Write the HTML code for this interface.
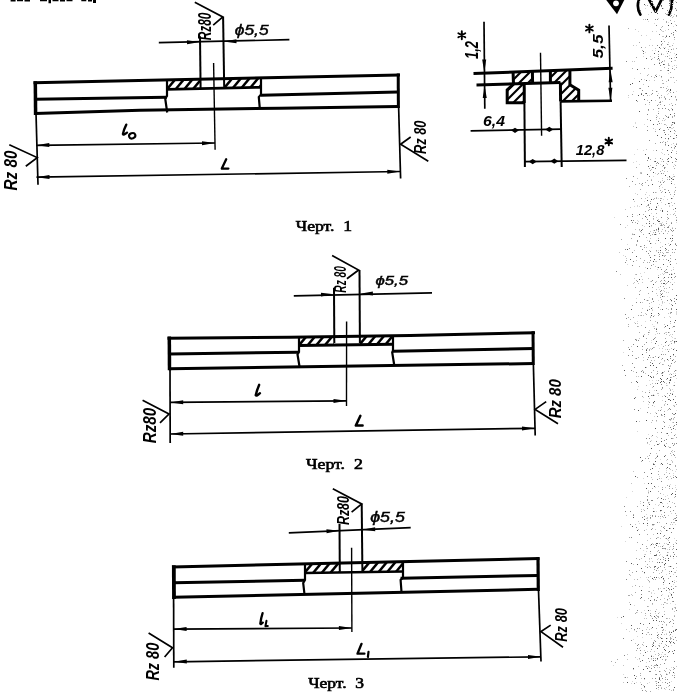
<!DOCTYPE html>
<html><head><meta charset="utf-8"><style>
html,body{margin:0;padding:0;background:#fff;}
body{width:677px;height:692px;overflow:hidden;font-family:"Liberation Sans",sans-serif;}
svg{display:block;will-change:transform;}
</style></head><body>
<svg width="677" height="692" viewBox="0 0 677 692" stroke-linecap="butt">
<line x1="33.5" y1="82.7" x2="400" y2="75" stroke="#000" stroke-width="3"/>
<line x1="35" y1="99.3" x2="167" y2="97.2" stroke="#000" stroke-width="3"/>
<line x1="261" y1="95.3" x2="398" y2="91.9" stroke="#000" stroke-width="3"/>
<polyline points="35,113.5 140,110.3 280,108.2 398,106.5" fill="none" stroke="#000" stroke-width="3" stroke-linejoin="miter"/>
<line x1="35.3" y1="81.2" x2="35.6" y2="115" stroke="#000" stroke-width="3.5"/>
<line x1="398.2" y1="73.5" x2="398.4" y2="108" stroke="#000" stroke-width="3"/>
<line x1="167" y1="89.3" x2="261" y2="87.3" stroke="#000" stroke-width="2.8"/>
<polyline points="167,80.5 167,96 165.2,98.5 167.2,112.5" fill="none" stroke="#000" stroke-width="2.2" stroke-linejoin="miter"/>
<polyline points="261,78.5 261,94.5 258.8,97 259.8,108.5" fill="none" stroke="#000" stroke-width="2.2" stroke-linejoin="miter"/>
<clipPath id="h1a"><polygon points="167,80 200.3,79.3 200.3,88.6 167,89.3"/></clipPath>
<g clip-path="url(#h1a)">
<line x1="158.67" y1="89" x2="167" y2="79" stroke="#000" stroke-width="2.5"/>
<line x1="167.27" y1="89" x2="175.6" y2="79" stroke="#000" stroke-width="2.5"/>
<line x1="175.87" y1="89" x2="184.2" y2="79" stroke="#000" stroke-width="2.5"/>
<line x1="184.47" y1="89" x2="192.8" y2="79" stroke="#000" stroke-width="2.5"/>
<line x1="193.07" y1="89" x2="201.4" y2="79" stroke="#000" stroke-width="2.5"/>
<line x1="201.67" y1="89" x2="210" y2="79" stroke="#000" stroke-width="2.5"/>
</g>
<clipPath id="h1b"><polygon points="224.5,79 261,78.3 261,87.3 224.5,88"/></clipPath>
<g clip-path="url(#h1b)">
<line x1="215.67" y1="88" x2="224" y2="78" stroke="#000" stroke-width="2.5"/>
<line x1="224.27" y1="88" x2="232.6" y2="78" stroke="#000" stroke-width="2.5"/>
<line x1="232.87" y1="88" x2="241.2" y2="78" stroke="#000" stroke-width="2.5"/>
<line x1="241.47" y1="88" x2="249.8" y2="78" stroke="#000" stroke-width="2.5"/>
<line x1="250.07" y1="88" x2="258.4" y2="78" stroke="#000" stroke-width="2.5"/>
<line x1="258.67" y1="88" x2="267" y2="78" stroke="#000" stroke-width="2.5"/>
<line x1="267.27" y1="88" x2="275.6" y2="78" stroke="#000" stroke-width="2.5"/>
</g>
<line x1="36" y1="113" x2="38" y2="184.7" stroke="#000" stroke-width="1.7"/>
<line x1="398.6" y1="106" x2="400.6" y2="178.5" stroke="#000" stroke-width="1.7"/>
<line x1="200" y1="36.2" x2="200.6" y2="88" stroke="#000" stroke-width="2"/>
<line x1="223.1" y1="17" x2="224.2" y2="88" stroke="#000" stroke-width="2"/>
<line x1="158.8" y1="42.7" x2="289.4" y2="39.7" stroke="#000" stroke-width="1.7"/>
<polygon points="200,42 186.95,40.33 187.05,44.32" fill="#000"/>
<polygon points="223.5,41.5 236.54,43.19 236.45,39.19" fill="#000"/>
<polyline points="194.8,2.2 222.8,17 213.2,25.1" fill="none" stroke="#000" stroke-width="1.7" stroke-linejoin="miter"/>
<line x1="213.6" y1="63" x2="215.1" y2="149.7" stroke="#000" stroke-width="1.4"/>
<line x1="36.3" y1="145.3" x2="215" y2="143" stroke="#000" stroke-width="1.7"/>
<polygon points="36.3,145.3 49.33,147.11 49.27,143.11" fill="#000"/>
<polygon points="215,143 201.97,141.22 202.04,145.22" fill="#000"/>
<line x1="36.5" y1="177.2" x2="400.3" y2="171.5" stroke="#000" stroke-width="1.7"/>
<polygon points="36.5,177.2 49.54,178.91 49.45,174.91" fill="#000"/>
<polygon points="400.3,171.5 387.27,169.7 387.33,173.7" fill="#000"/>
<polyline points="9.3,144.7 37.2,157.6 25.8,166.2" fill="none" stroke="#000" stroke-width="1.7" stroke-linejoin="miter"/>
<polyline points="428.3,161.2 400.6,144.2 410.7,137" fill="none" stroke="#000" stroke-width="1.7" stroke-linejoin="miter"/>
<line x1="473.5" y1="73.5" x2="612.6" y2="68.3" stroke="#000" stroke-width="3"/>
<line x1="476.5" y1="84.9" x2="560.4" y2="82.5" stroke="#000" stroke-width="3"/>
<line x1="560.4" y1="101.4" x2="612" y2="100.8" stroke="#000" stroke-width="2.6"/>
<line x1="513.1" y1="72.5" x2="513.5" y2="84.5" stroke="#000" stroke-width="3"/>
<line x1="532.4" y1="72" x2="532.6" y2="83.5" stroke="#000" stroke-width="3"/>
<line x1="550.4" y1="71.5" x2="550.4" y2="83" stroke="#000" stroke-width="3"/>
<line x1="569.9" y1="70.5" x2="569.9" y2="85" stroke="#000" stroke-width="3"/>
<polyline points="513.7,84 507.2,89.8 507.2,102.8 525,102.8" fill="none" stroke="#000" stroke-width="3" stroke-linejoin="miter"/>
<line x1="524.2" y1="84" x2="524.3" y2="103" stroke="#000" stroke-width="3"/>
<line x1="524.4" y1="103" x2="524.9" y2="167" stroke="#000" stroke-width="2"/>
<polyline points="569.9,84.8 578.7,90.1 578.7,101.4" fill="none" stroke="#000" stroke-width="3" stroke-linejoin="miter"/>
<line x1="560.4" y1="82.5" x2="560.6" y2="101.5" stroke="#000" stroke-width="3"/>
<line x1="560.6" y1="101.5" x2="561.7" y2="167" stroke="#000" stroke-width="2"/>
<clipPath id="hs1"><polygon points="513.3,73.2 532.4,72.4 532.4,83.6 513.3,84.3"/></clipPath>
<g clip-path="url(#hs1)">
<line x1="499" y1="85" x2="512" y2="72" stroke="#000" stroke-width="2.1"/>
<line x1="508" y1="85" x2="521" y2="72" stroke="#000" stroke-width="2.1"/>
<line x1="517" y1="85" x2="530" y2="72" stroke="#000" stroke-width="2.1"/>
<line x1="526" y1="85" x2="539" y2="72" stroke="#000" stroke-width="2.1"/>
<line x1="535" y1="85" x2="548" y2="72" stroke="#000" stroke-width="2.1"/>
</g>
<clipPath id="hs2"><polygon points="513.7,84 507.2,89.8 507.2,102.8 524.2,102.8 524.2,84"/></clipPath>
<g clip-path="url(#hs2)">
<line x1="486" y1="103" x2="506" y2="83" stroke="#000" stroke-width="2.1"/>
<line x1="495" y1="103" x2="515" y2="83" stroke="#000" stroke-width="2.1"/>
<line x1="504" y1="103" x2="524" y2="83" stroke="#000" stroke-width="2.1"/>
<line x1="513" y1="103" x2="533" y2="83" stroke="#000" stroke-width="2.1"/>
<line x1="522" y1="103" x2="542" y2="83" stroke="#000" stroke-width="2.1"/>
<line x1="531" y1="103" x2="551" y2="83" stroke="#000" stroke-width="2.1"/>
</g>
<clipPath id="hs3"><polygon points="550.4,71.5 569.9,70.7 569.9,84.8 578.7,90.1 578.7,101.4 560.6,101.4 560.4,82.5 550.4,83"/></clipPath>
<g clip-path="url(#hs3)">
<line x1="517" y1="102" x2="549" y2="70" stroke="#000" stroke-width="2.1"/>
<line x1="526" y1="102" x2="558" y2="70" stroke="#000" stroke-width="2.1"/>
<line x1="535" y1="102" x2="567" y2="70" stroke="#000" stroke-width="2.1"/>
<line x1="544" y1="102" x2="576" y2="70" stroke="#000" stroke-width="2.1"/>
<line x1="553" y1="102" x2="585" y2="70" stroke="#000" stroke-width="2.1"/>
<line x1="562" y1="102" x2="594" y2="70" stroke="#000" stroke-width="2.1"/>
<line x1="571" y1="102" x2="603" y2="70" stroke="#000" stroke-width="2.1"/>
<line x1="580" y1="102" x2="612" y2="70" stroke="#000" stroke-width="2.1"/>
</g>
<line x1="484" y1="21.8" x2="484.8" y2="108.7" stroke="#000" stroke-width="1.7"/>
<polygon points="484.4,72.5 486.17,59.47 482.17,59.54" fill="#000"/>
<polygon points="484.5,85 482.74,98.03 486.74,97.96" fill="#000"/>
<line x1="609" y1="25.6" x2="610.6" y2="100.8" stroke="#000" stroke-width="1.7"/>
<polygon points="610.4,69.2 608.64,82.23 612.64,82.16" fill="#000"/>
<polygon points="610.6,100.8 612.38,87.77 608.38,87.84" fill="#000"/>
<line x1="540.5" y1="52.8" x2="541.6" y2="135.7" stroke="#000" stroke-width="1.4"/>
<line x1="470.6" y1="130.8" x2="561.7" y2="129.2" stroke="#000" stroke-width="1.7"/>
<polygon points="511,130.3 515,132.9 519,130.3 515,127.7" fill="#000"/>
<polygon points="545.3,129.4 549.3,132 553.3,129.4 549.3,126.8" fill="#000"/>
<line x1="524.9" y1="161.7" x2="626.5" y2="160.4" stroke="#000" stroke-width="1.7"/>
<polygon points="528.7,161.6 532.7,164.2 536.7,161.6 532.7,159" fill="#000"/>
<polygon points="550.3,161.2 554.3,163.8 558.3,161.2 554.3,158.6" fill="#000"/>
<polyline points="167.5,338.3 290,337.2 410,335.4 535,332.7" fill="none" stroke="#000" stroke-width="3" stroke-linejoin="miter"/>
<line x1="169.5" y1="353.9" x2="299" y2="352.2" stroke="#000" stroke-width="3"/>
<line x1="393" y1="351.3" x2="534" y2="348.5" stroke="#000" stroke-width="3"/>
<line x1="169.5" y1="368.8" x2="534" y2="363.5" stroke="#000" stroke-width="3"/>
<line x1="169.3" y1="336.6" x2="169.5" y2="370.3" stroke="#000" stroke-width="3.5"/>
<line x1="533" y1="331.2" x2="533.3" y2="365" stroke="#000" stroke-width="3"/>
<line x1="299" y1="345.4" x2="393" y2="344.3" stroke="#000" stroke-width="3"/>
<polyline points="299,336.5 299,352 297.5,354.5 299.5,366.5" fill="none" stroke="#000" stroke-width="2.2" stroke-linejoin="miter"/>
<polyline points="393,335 393,350.5 392.2,352.5 394.3,365.5" fill="none" stroke="#000" stroke-width="2.2" stroke-linejoin="miter"/>
<clipPath id="h2a"><polygon points="299,336.5 334,336 334,345 299,345.5"/></clipPath>
<g clip-path="url(#h2a)">
<line x1="289.83" y1="346" x2="299" y2="335" stroke="#000" stroke-width="2.5"/>
<line x1="298.43" y1="346" x2="307.6" y2="335" stroke="#000" stroke-width="2.5"/>
<line x1="307.03" y1="346" x2="316.2" y2="335" stroke="#000" stroke-width="2.5"/>
<line x1="315.63" y1="346" x2="324.8" y2="335" stroke="#000" stroke-width="2.5"/>
<line x1="324.23" y1="346" x2="333.4" y2="335" stroke="#000" stroke-width="2.5"/>
<line x1="332.83" y1="346" x2="342" y2="335" stroke="#000" stroke-width="2.5"/>
<line x1="341.43" y1="346" x2="350.6" y2="335" stroke="#000" stroke-width="2.5"/>
</g>
<clipPath id="h2b"><polygon points="359.9,335.7 393,335.2 393,344.3 359.9,344.7"/></clipPath>
<g clip-path="url(#h2b)">
<line x1="349.83" y1="346" x2="359" y2="335" stroke="#000" stroke-width="2.5"/>
<line x1="358.43" y1="346" x2="367.6" y2="335" stroke="#000" stroke-width="2.5"/>
<line x1="367.03" y1="346" x2="376.2" y2="335" stroke="#000" stroke-width="2.5"/>
<line x1="375.63" y1="346" x2="384.8" y2="335" stroke="#000" stroke-width="2.5"/>
<line x1="384.23" y1="346" x2="393.4" y2="335" stroke="#000" stroke-width="2.5"/>
<line x1="392.83" y1="346" x2="402" y2="335" stroke="#000" stroke-width="2.5"/>
<line x1="401.43" y1="346" x2="410.6" y2="335" stroke="#000" stroke-width="2.5"/>
</g>
<line x1="334" y1="287.7" x2="334.3" y2="343" stroke="#000" stroke-width="2"/>
<line x1="359.5" y1="270" x2="359.9" y2="343" stroke="#000" stroke-width="2"/>
<polyline points="332.1,255.6 358.6,270 346.9,278.8" fill="none" stroke="#000" stroke-width="1.7" stroke-linejoin="miter"/>
<line x1="293.8" y1="295.9" x2="432" y2="292.8" stroke="#000" stroke-width="1.7"/>
<polygon points="334,294.3 320.95,292.63 321.05,296.62" fill="#000"/>
<polygon points="359.9,293.7 372.93,295.48 372.87,291.49" fill="#000"/>
<line x1="346.6" y1="321.6" x2="346.5" y2="406" stroke="#000" stroke-width="1.4"/>
<line x1="170" y1="368" x2="170.2" y2="443" stroke="#000" stroke-width="1.7"/>
<line x1="533.4" y1="365" x2="535.2" y2="435.5" stroke="#000" stroke-width="1.7"/>
<line x1="170.2" y1="402.4" x2="346.5" y2="400.8" stroke="#000" stroke-width="1.7"/>
<polygon points="170.2,402.4 183.22,404.3 183.18,400.3" fill="#000"/>
<polygon points="346.5,400.8 333.48,398.9 333.52,402.9" fill="#000"/>
<line x1="170.2" y1="434" x2="535" y2="428.3" stroke="#000" stroke-width="1.7"/>
<polygon points="170.2,434 183.23,435.8 183.17,431.8" fill="#000"/>
<polygon points="535,428.3 521.97,426.5 522.03,430.5" fill="#000"/>
<polyline points="142.6,400.2 169,414 160,422.8" fill="none" stroke="#000" stroke-width="1.7" stroke-linejoin="miter"/>
<polyline points="558,423.8 535.1,409.4 546.2,401.6" fill="none" stroke="#000" stroke-width="1.7" stroke-linejoin="miter"/>
<line x1="172" y1="567" x2="539.5" y2="558.5" stroke="#000" stroke-width="3"/>
<line x1="173.5" y1="582.7" x2="305" y2="580.3" stroke="#000" stroke-width="3"/>
<line x1="400.6" y1="578.2" x2="538" y2="575.5" stroke="#000" stroke-width="3"/>
<line x1="173.5" y1="597.3" x2="538" y2="589.3" stroke="#000" stroke-width="3"/>
<line x1="173.8" y1="565.3" x2="174" y2="599" stroke="#000" stroke-width="3.8"/>
<line x1="538" y1="557.2" x2="538.3" y2="591" stroke="#000" stroke-width="3.2"/>
<line x1="305" y1="573" x2="403" y2="571.5" stroke="#000" stroke-width="2.6"/>
<polyline points="305,564 305,580 303.2,583 304.5,594.5" fill="none" stroke="#000" stroke-width="2.2" stroke-linejoin="miter"/>
<polyline points="403,562 403,577.5 400.6,580 401.5,592" fill="none" stroke="#000" stroke-width="2.2" stroke-linejoin="miter"/>
<clipPath id="h3a"><polygon points="305,564 339.5,563.3 339.5,572.5 305,573.2"/></clipPath>
<g clip-path="url(#h3a)">
<line x1="295" y1="574" x2="305" y2="562" stroke="#000" stroke-width="2.5"/>
<line x1="303.6" y1="574" x2="313.6" y2="562" stroke="#000" stroke-width="2.5"/>
<line x1="312.2" y1="574" x2="322.2" y2="562" stroke="#000" stroke-width="2.5"/>
<line x1="320.8" y1="574" x2="330.8" y2="562" stroke="#000" stroke-width="2.5"/>
<line x1="329.4" y1="574" x2="339.4" y2="562" stroke="#000" stroke-width="2.5"/>
<line x1="338" y1="574" x2="348" y2="562" stroke="#000" stroke-width="2.5"/>
<line x1="346.6" y1="574" x2="356.6" y2="562" stroke="#000" stroke-width="2.5"/>
</g>
<clipPath id="h3b"><polygon points="362.4,562.8 403,562 403,571.5 362.4,572.2"/></clipPath>
<g clip-path="url(#h3b)">
<line x1="352" y1="573" x2="362" y2="561" stroke="#000" stroke-width="2.5"/>
<line x1="360.6" y1="573" x2="370.6" y2="561" stroke="#000" stroke-width="2.5"/>
<line x1="369.2" y1="573" x2="379.2" y2="561" stroke="#000" stroke-width="2.5"/>
<line x1="377.8" y1="573" x2="387.8" y2="561" stroke="#000" stroke-width="2.5"/>
<line x1="386.4" y1="573" x2="396.4" y2="561" stroke="#000" stroke-width="2.5"/>
<line x1="395" y1="573" x2="405" y2="561" stroke="#000" stroke-width="2.5"/>
<line x1="403.6" y1="573" x2="413.6" y2="561" stroke="#000" stroke-width="2.5"/>
</g>
<line x1="339.5" y1="524" x2="339.8" y2="571.7" stroke="#000" stroke-width="2"/>
<line x1="361.7" y1="503.9" x2="362.4" y2="571.7" stroke="#000" stroke-width="2"/>
<polyline points="332.8,488.8 361.7,503.9 351.6,512.2" fill="none" stroke="#000" stroke-width="1.7" stroke-linejoin="miter"/>
<line x1="288.8" y1="532.8" x2="410.7" y2="527.7" stroke="#000" stroke-width="1.7"/>
<polygon points="339.5,530.7 326.43,529.22 326.59,533.22" fill="#000"/>
<polygon points="362.2,529.8 375.27,531.29 375.11,527.29" fill="#000"/>
<line x1="351.6" y1="547.8" x2="351.9" y2="632" stroke="#000" stroke-width="1.4"/>
<line x1="173.6" y1="596" x2="173.8" y2="667.7" stroke="#000" stroke-width="1.7"/>
<line x1="538.5" y1="590" x2="541" y2="661.5" stroke="#000" stroke-width="1.7"/>
<line x1="173.6" y1="629.1" x2="351.9" y2="628" stroke="#000" stroke-width="1.7"/>
<polygon points="173.6,629.1 186.62,631 186.58,627" fill="#000"/>
<polygon points="351.9,628 338.88,626.1 338.92,630.1" fill="#000"/>
<line x1="173.8" y1="661.8" x2="541" y2="656.8" stroke="#000" stroke-width="1.7"/>
<polygon points="173.8,661.8 186.83,663.59 186.77,659.59" fill="#000"/>
<polygon points="541,656.8 527.97,655 528.03,659" fill="#000"/>
<polyline points="148.6,633 172.5,647.7 164.6,657" fill="none" stroke="#000" stroke-width="1.7" stroke-linejoin="miter"/>
<polyline points="563,647.2 541,631.6 550.7,625.1" fill="none" stroke="#000" stroke-width="1.7" stroke-linejoin="miter"/>
<text x="0" y="0" transform="translate(17,190.4) rotate(-90)" font-family="Liberation Sans" font-size="18.29" font-weight="bold" font-style="italic" fill="#000" textLength="39.87" lengthAdjust="spacingAndGlyphs" id="t0">Rz 80</text>
<text x="0" y="0" transform="translate(210.5,40.3) rotate(-90)" font-family="Liberation Sans" font-size="18.18" font-weight="bold" font-style="italic" fill="#000" textLength="27.61" lengthAdjust="spacingAndGlyphs" id="t1">Rz80</text>
<text x="0" y="0" transform="translate(234.8,35.2) rotate(0)" font-family="Liberation Sans" font-size="14.73" font-weight="normal" font-style="italic" fill="#000" textLength="33.82" lengthAdjust="spacingAndGlyphs" stroke="#000" stroke-width="0.45" id="t2">ϕ5,5</text>
<text x="0" y="0" transform="translate(426,154) rotate(-90)" font-family="Liberation Sans" font-size="17.17" font-weight="bold" font-style="italic" fill="#000" textLength="33.43" lengthAdjust="spacingAndGlyphs" id="t3">Rz 80</text>
<text x="0" y="0" transform="translate(295.8,230.6) rotate(0)" font-family="Liberation Serif" font-size="13.8" font-weight="normal" font-style="normal" fill="#000" textLength="56.2" lengthAdjust="spacingAndGlyphs" stroke="#000" stroke-width="0.6" id="t4">Черт.&#160;&#160;1</text>
<text x="0" y="0" transform="translate(478.4,59) rotate(-90)" font-family="Liberation Sans" font-size="17.53" font-weight="bold" font-style="italic" fill="#000" textLength="18" lengthAdjust="spacingAndGlyphs" id="t5">1,2</text>
<text x="0" y="0" transform="translate(603,58.6) rotate(-90)" font-family="Liberation Sans" font-size="15.06" font-weight="bold" font-style="italic" fill="#000" textLength="24.23" lengthAdjust="spacingAndGlyphs" id="t6">5,5</text>
<text x="0" y="0" transform="translate(483,125.9) rotate(0)" font-family="Liberation Sans" font-size="15.05" font-weight="bold" font-style="italic" fill="#000" textLength="21.93" lengthAdjust="spacingAndGlyphs" id="t7">6,4</text>
<text x="0" y="0" transform="translate(575.7,155.4) rotate(0)" font-family="Liberation Sans" font-size="14.26" font-weight="bold" font-style="italic" fill="#000" textLength="28.65" lengthAdjust="spacingAndGlyphs" id="t8">12,8</text>
<text x="0" y="0" transform="translate(345.6,292.7) rotate(-90)" font-family="Liberation Sans" font-size="15.69" font-weight="bold" font-style="italic" fill="#000" textLength="26.5" lengthAdjust="spacingAndGlyphs" id="t9">Rz 80</text>
<text x="0" y="0" transform="translate(375.5,284.6) rotate(0)" font-family="Liberation Sans" font-size="13.11" font-weight="normal" font-style="italic" fill="#000" textLength="32.45" lengthAdjust="spacingAndGlyphs" stroke="#000" stroke-width="0.45" id="t10">ϕ5,5</text>
<text x="0" y="0" transform="translate(156,443.3) rotate(-90)" font-family="Liberation Sans" font-size="18.29" font-weight="bold" font-style="italic" fill="#000" textLength="35.44" lengthAdjust="spacingAndGlyphs" id="t11">Rz80</text>
<text x="0" y="0" transform="translate(560.8,418.3) rotate(-90)" font-family="Liberation Sans" font-size="17.17" font-weight="bold" font-style="italic" fill="#000" textLength="39.06" lengthAdjust="spacingAndGlyphs" id="t12">Rz 80</text>
<text x="0" y="0" transform="translate(306,469.1) rotate(0)" font-family="Liberation Serif" font-size="13.8" font-weight="normal" font-style="normal" fill="#000" textLength="56.8" lengthAdjust="spacingAndGlyphs" stroke="#000" stroke-width="0.6" id="t13">Черт.&#160;&#160;2</text>
<text x="0" y="0" transform="translate(349.1,525.1) rotate(-90)" font-family="Liberation Sans" font-size="17.25" font-weight="bold" font-style="italic" fill="#000" textLength="29.08" lengthAdjust="spacingAndGlyphs" id="t14">Rz80</text>
<text x="0" y="0" transform="translate(370.2,522.2) rotate(0)" font-family="Liberation Sans" font-size="13.88" font-weight="normal" font-style="italic" fill="#000" textLength="34.6" lengthAdjust="spacingAndGlyphs" stroke="#000" stroke-width="0.45" id="t15">ϕ5,5</text>
<text x="0" y="0" transform="translate(159.3,680.6) rotate(-90)" font-family="Liberation Sans" font-size="18.29" font-weight="bold" font-style="italic" fill="#000" textLength="37.82" lengthAdjust="spacingAndGlyphs" id="t16">Rz 80</text>
<text x="0" y="0" transform="translate(566.5,641.7) rotate(-90)" font-family="Liberation Sans" font-size="16.61" font-weight="bold" font-style="italic" fill="#000" textLength="33.72" lengthAdjust="spacingAndGlyphs" id="t17">Rz 80</text>
<text x="0" y="0" transform="translate(308.2,688.2) rotate(0)" font-family="Liberation Serif" font-size="13.8" font-weight="normal" font-style="normal" fill="#000" textLength="55.8" lengthAdjust="spacingAndGlyphs" stroke="#000" stroke-width="0.6" id="t18">Черт.&#160;&#160;3</text>
<path d="M126.3,124.6 Q124,129 122.9,134 Q123.5,135.5 127,132.6" fill="none" stroke="#000" stroke-width="2.3" stroke-linecap="round" stroke-linejoin="round"/>
<ellipse cx="132.2" cy="135.8" rx="3.2" ry="2.6" fill="none" stroke="#000" stroke-width="2.1" transform="rotate(-20 132.2 135.8)"/>
<path d="M226.2,159.3 L221.8,168.6 L228.4,168.6" fill="none" stroke="#000" stroke-width="2.3" stroke-linecap="round" stroke-linejoin="round"/>
<path d="M259.2,384.8 Q257,390 255.7,395.2 Q256.5,396.5 260,393.2" fill="none" stroke="#000" stroke-width="2.4" stroke-linecap="round" stroke-linejoin="round"/>
<path d="M360.4,415.8 L355.8,425.6 L362.6,425.6" fill="none" stroke="#000" stroke-width="2.5" stroke-linecap="round" stroke-linejoin="round"/>
<path d="M262.6,613.2 Q261,618 260.3,623.6 Q261,624.8 262.8,622.6" fill="none" stroke="#000" stroke-width="2.3" stroke-linecap="round" stroke-linejoin="round"/>
<path d="M266.5,620.8 L265.4,626.3 L267.8,626.1" fill="none" stroke="#000" stroke-width="2.0" stroke-linecap="round" stroke-linejoin="round"/>
<path d="M361.5,643.9 L357.5,653.6 L364.4,653.6" fill="none" stroke="#000" stroke-width="2.4" stroke-linecap="round" stroke-linejoin="round"/>
<path d="M368.5,651.9 L367.9,657" fill="none" stroke="#000" stroke-width="2.2" stroke-linecap="round" stroke-linejoin="round"/>
<path d="M461.8,31.3L461.8,39.3M458.34,33.3L465.26,37.3M465.26,33.3L458.34,37.3" fill="none" stroke="#000" stroke-width="1.9" stroke-linecap="round" stroke-linejoin="round"/>
<path d="M589.4,24.6L589.4,32.4M586.02,26.55L592.78,30.45M592.78,26.55L586.02,30.45" fill="none" stroke="#000" stroke-width="1.9" stroke-linecap="round" stroke-linejoin="round"/>
<path d="M608.8,137.7L608.8,145.3M605.51,139.6L612.09,143.4M612.09,139.6L605.51,143.4" fill="none" stroke="#000" stroke-width="1.9" stroke-linecap="round" stroke-linejoin="round"/>
<path d="M10.6,0h5v1.4h-5z M17,0h6v1.3h-6z M24.5,0h5.5v1.4h-5.5z M40,0h7v1.3h-7z M48.5,0h2.5v3.2h-2.5z M52.5,0h6v1.3h-6z M60,0h5v1.4h-5z M66.5,0h6v1.3h-6z M81.3,0h5v1.3h-5z M88,0h4v1.4h-4z M93,0h3v3h-3z" fill="#000"/>
<path d="M605.5,-1 L624.8,-1 L617,14.2 Z" fill="#000"/>
<circle cx="616" cy="3.3" r="2.9" fill="#fff"/>
<path d="M639.2,-1 Q636,7 640.4,14.6" fill="none" stroke="#000" stroke-width="2.7" stroke-linecap="round"/>
<path d="M648.8,-1 L655.7,11.5 L661.8,-1" fill="none" stroke="#000" stroke-width="2.8" stroke-linejoin="round"/>
<path d="M671.5,-1 Q673,7 668.9,14.6" fill="none" stroke="#000" stroke-width="2.7" stroke-linecap="round"/>
<path fill="#888" d="M663 0h1v1h-1zM669 0h1v1h-1zM639 1h1v1h-1zM676 2h1v1h-1zM650 6h1v1h-1zM661 6h1v1h-1zM675 8h1v1h-1zM640 10h1v1h-1zM667 10h1v1h-1zM670 10h1v1h-1zM676 10h1v1h-1zM651 12h1v1h-1zM671 15h1v1h-1zM676 15h1v1h-1zM655 19h1v1h-1zM657 19h1v1h-1zM656 25h1v1h-1zM676 25h1v1h-1zM660 29h1v1h-1zM673 32h1v1h-1zM671 33h1v1h-1zM659 34h1v1h-1zM673 34h1v1h-1zM674 37h1v1h-1zM661 44h1v1h-1zM667 44h1v1h-1zM657 45h1v1h-1zM641 47h1v1h-1zM671 49h1v1h-1zM643 53h1v1h-1zM661 54h1v1h-1zM658 56h1v1h-1zM667 56h1v1h-1zM651 59h1v1h-1zM626 61h1v1h-1zM662 61h1v1h-1zM671 61h1v1h-1zM661 62h1v1h-1zM654 64h1v1h-1zM664 64h1v1h-1zM660 65h1v1h-1zM644 68h1v1h-1zM672 68h1v1h-1zM655 75h1v1h-1zM661 76h1v1h-1zM641 79h1v1h-1zM668 80h1v1h-1zM648 86h1v1h-1zM640 88h1v1h-1zM642 90h1v1h-1zM667 90h1v1h-1zM656 91h1v1h-1zM673 92h1v1h-1zM641 93h1v1h-1zM645 93h1v1h-1zM652 93h1v1h-1zM643 95h1v1h-1zM657 95h1v1h-1zM659 97h1v1h-1zM665 98h1v1h-1zM676 99h1v1h-1zM649 102h1v1h-1zM660 102h1v1h-1zM657 105h1v1h-1zM664 105h1v1h-1zM672 105h1v1h-1zM658 108h1v1h-1zM662 108h1v1h-1zM665 108h1v1h-1zM648 109h1v1h-1zM668 109h1v1h-1zM658 113h1v1h-1zM674 113h1v1h-1zM647 114h1v1h-1zM674 115h1v1h-1zM666 116h1v1h-1zM656 117h1v1h-1zM658 121h1v1h-1zM674 122h1v1h-1zM659 123h1v1h-1zM657 124h1v1h-1zM636 127h1v1h-1zM669 127h1v1h-1zM670 127h1v1h-1zM647 130h1v1h-1zM663 130h1v1h-1zM664 130h1v1h-1zM674 130h1v1h-1zM664 132h1v1h-1zM670 136h1v1h-1zM665 138h1v1h-1zM649 140h1v1h-1zM660 142h1v1h-1zM665 142h1v1h-1zM665 144h1v1h-1zM676 144h1v1h-1zM671 147h1v1h-1zM656 150h1v1h-1zM660 158h1v1h-1zM675 158h1v1h-1zM667 159h1v1h-1zM647 160h1v1h-1zM654 161h1v1h-1zM663 161h1v1h-1zM657 162h1v1h-1zM672 162h1v1h-1zM658 163h1v1h-1zM653 167h1v1h-1zM664 167h1v1h-1zM655 168h1v1h-1zM664 168h1v1h-1zM661 173h1v1h-1zM633 176h1v1h-1zM649 176h1v1h-1zM626 178h1v1h-1zM669 179h1v1h-1zM632 181h1v1h-1zM660 182h1v1h-1zM663 182h1v1h-1zM642 183h1v1h-1zM648 185h1v1h-1zM659 186h1v1h-1zM668 190h1v1h-1zM653 192h1v1h-1zM669 192h1v1h-1zM674 194h1v1h-1zM660 200h1v1h-1zM650 203h1v1h-1zM669 203h1v1h-1zM648 204h1v1h-1zM648 205h1v1h-1zM649 207h1v1h-1zM667 211h1v1h-1zM632 214h1v1h-1zM667 214h1v1h-1zM627 216h1v1h-1zM632 216h1v1h-1zM661 217h1v1h-1zM668 218h1v1h-1zM647 219h1v1h-1zM633 220h1v1h-1zM676 220h1v1h-1zM649 221h1v1h-1zM632 222h1v1h-1zM637 223h1v1h-1zM646 223h1v1h-1zM653 223h1v1h-1zM671 223h1v1h-1zM620 224h1v1h-1zM661 225h1v1h-1zM667 227h1v1h-1zM668 227h1v1h-1zM642 229h1v1h-1zM656 229h1v1h-1zM654 230h1v1h-1zM671 230h1v1h-1zM673 230h1v1h-1zM655 232h1v1h-1zM663 233h1v1h-1zM634 234h1v1h-1zM654 234h1v1h-1zM672 235h1v1h-1zM637 240h1v1h-1zM672 240h1v1h-1zM637 241h1v1h-1zM649 241h1v1h-1zM665 244h1v1h-1zM675 244h1v1h-1zM644 245h1v1h-1zM676 245h1v1h-1zM640 246h1v1h-1zM629 248h1v1h-1zM625 249h1v1h-1zM642 249h1v1h-1zM666 249h1v1h-1zM672 249h1v1h-1zM675 249h1v1h-1zM646 251h1v1h-1zM650 251h1v1h-1zM632 252h1v1h-1zM658 252h1v1h-1zM648 253h1v1h-1zM654 255h1v1h-1zM659 256h1v1h-1zM659 259h1v1h-1zM675 259h1v1h-1zM650 260h1v1h-1zM633 261h1v1h-1zM670 261h1v1h-1zM625 262h1v1h-1zM632 265h1v1h-1zM651 265h1v1h-1zM661 269h1v1h-1zM666 269h1v1h-1zM616 271h1v1h-1zM664 271h1v1h-1zM667 272h1v1h-1zM674 273h1v1h-1zM669 274h1v1h-1zM675 276h1v1h-1zM668 277h1v1h-1zM652 280h1v1h-1zM664 280h1v1h-1zM637 281h1v1h-1zM672 284h1v1h-1zM661 290h1v1h-1zM652 291h1v1h-1zM660 291h1v1h-1zM639 294h1v1h-1zM624 298h1v1h-1zM652 298h1v1h-1zM674 298h1v1h-1zM644 299h1v1h-1zM652 299h1v1h-1zM670 299h1v1h-1zM647 300h1v1h-1zM667 300h1v1h-1zM653 301h1v1h-1zM674 301h1v1h-1zM636 302h1v1h-1zM640 302h1v1h-1zM675 303h1v1h-1zM658 307h1v1h-1zM671 308h1v1h-1zM649 309h1v1h-1zM671 309h1v1h-1zM671 312h1v1h-1zM625 314h1v1h-1zM653 316h1v1h-1zM626 318h1v1h-1zM670 321h1v1h-1zM657 322h1v1h-1zM674 322h1v1h-1zM673 326h1v1h-1zM674 326h1v1h-1zM645 327h1v1h-1zM674 331h1v1h-1zM648 332h1v1h-1zM668 332h1v1h-1zM654 338h1v1h-1zM635 339h1v1h-1zM653 339h1v1h-1zM636 340h1v1h-1zM638 340h1v1h-1zM666 341h1v1h-1zM646 342h1v1h-1zM674 342h1v1h-1zM633 344h1v1h-1zM668 345h1v1h-1zM642 346h1v1h-1zM652 348h1v1h-1zM646 349h1v1h-1zM668 351h1v1h-1zM661 354h1v1h-1zM628 355h1v1h-1zM632 355h1v1h-1zM648 357h1v1h-1zM653 357h1v1h-1zM636 358h1v1h-1zM662 358h1v1h-1zM670 358h1v1h-1zM647 359h1v1h-1zM650 362h1v1h-1zM632 363h1v1h-1zM659 363h1v1h-1zM671 363h1v1h-1zM668 365h1v1h-1zM634 367h1v1h-1zM631 370h1v1h-1zM675 370h1v1h-1zM641 371h1v1h-1zM668 371h1v1h-1zM636 372h1v1h-1zM643 372h1v1h-1zM657 373h1v1h-1zM671 374h1v1h-1zM625 375h1v1h-1zM653 377h1v1h-1zM670 377h1v1h-1zM664 382h1v1h-1zM661 384h1v1h-1zM674 385h1v1h-1zM653 386h1v1h-1zM662 387h1v1h-1zM656 390h1v1h-1zM649 392h1v1h-1zM670 393h1v1h-1zM651 395h1v1h-1zM669 395h1v1h-1zM635 397h1v1h-1zM669 399h1v1h-1zM665 401h1v1h-1zM649 402h1v1h-1zM667 404h1v1h-1zM669 408h1v1h-1zM634 409h1v1h-1zM670 409h1v1h-1zM660 410h1v1h-1zM647 412h1v1h-1zM656 413h1v1h-1zM672 413h1v1h-1zM661 414h1v1h-1zM674 414h1v1h-1zM657 416h1v1h-1zM671 418h1v1h-1zM669 419h1v1h-1zM664 422h1v1h-1zM676 424h1v1h-1zM674 425h1v1h-1zM664 426h1v1h-1zM670 427h1v1h-1zM671 429h1v1h-1zM661 432h1v1h-1zM652 435h1v1h-1zM674 435h1v1h-1zM646 438h1v1h-1zM649 438h1v1h-1zM661 438h1v1h-1zM671 438h1v1h-1zM666 439h1v1h-1zM664 440h1v1h-1zM656 441h1v1h-1zM672 443h1v1h-1zM676 443h1v1h-1zM658 444h1v1h-1zM673 445h1v1h-1zM650 453h1v1h-1zM673 454h1v1h-1zM665 455h1v1h-1zM674 455h1v1h-1zM648 458h1v1h-1zM654 464h1v1h-1zM670 464h1v1h-1zM669 468h1v1h-1zM650 469h1v1h-1zM644 472h1v1h-1zM647 476h1v1h-1zM675 476h1v1h-1zM666 477h1v1h-1zM673 477h1v1h-1zM657 479h1v1h-1zM661 481h1v1h-1zM669 486h1v1h-1zM662 489h1v1h-1zM647 496h1v1h-1zM675 496h1v1h-1zM647 499h1v1h-1zM663 499h1v1h-1zM647 500h1v1h-1zM651 500h1v1h-1zM652 500h1v1h-1zM669 501h1v1h-1zM643 502h1v1h-1zM624 506h1v1h-1zM670 507h1v1h-1zM647 508h1v1h-1zM661 510h1v1h-1zM673 510h1v1h-1zM625 511h1v1h-1zM630 511h1v1h-1zM664 512h1v1h-1zM633 515h1v1h-1zM652 515h1v1h-1zM664 515h1v1h-1zM644 516h1v1h-1zM655 516h1v1h-1zM642 517h1v1h-1zM650 517h1v1h-1zM665 517h1v1h-1zM676 517h1v1h-1zM675 518h1v1h-1zM675 520h1v1h-1zM657 522h1v1h-1zM666 523h1v1h-1zM630 524h1v1h-1zM652 524h1v1h-1zM653 524h1v1h-1zM636 527h1v1h-1zM663 527h1v1h-1zM664 528h1v1h-1zM651 529h1v1h-1zM671 532h1v1h-1zM639 534h1v1h-1zM664 535h1v1h-1zM631 537h1v1h-1zM656 538h1v1h-1zM666 538h1v1h-1zM668 538h1v1h-1zM676 543h1v1h-1zM642 544h1v1h-1zM668 544h1v1h-1zM662 546h1v1h-1zM673 546h1v1h-1zM654 547h1v1h-1zM662 548h1v1h-1zM665 548h1v1h-1zM650 551h1v1h-1zM659 552h1v1h-1zM673 552h1v1h-1zM656 554h1v1h-1zM674 554h1v1h-1zM656 555h1v1h-1zM670 556h1v1h-1zM663 557h1v1h-1zM660 559h1v1h-1zM626 561h1v1h-1zM657 562h1v1h-1zM662 562h1v1h-1zM676 563h1v1h-1zM654 566h1v1h-1zM660 566h1v1h-1zM647 567h1v1h-1zM654 567h1v1h-1zM658 567h1v1h-1zM657 568h1v1h-1zM673 568h1v1h-1zM656 570h1v1h-1zM636 571h1v1h-1zM662 576h1v1h-1zM670 576h1v1h-1zM676 576h1v1h-1zM626 579h1v1h-1zM673 588h1v1h-1zM669 589h1v1h-1zM666 590h1v1h-1zM673 592h1v1h-1zM641 594h1v1h-1zM671 595h1v1h-1zM651 596h1v1h-1zM657 597h1v1h-1zM640 598h1v1h-1zM654 599h1v1h-1zM667 599h1v1h-1zM656 600h1v1h-1zM673 601h1v1h-1zM637 610h1v1h-1zM676 610h1v1h-1zM655 611h1v1h-1zM650 615h1v1h-1zM621 617h1v1h-1zM652 618h1v1h-1zM659 621h1v1h-1zM661 621h1v1h-1zM670 621h1v1h-1zM669 622h1v1h-1zM673 623h1v1h-1zM643 624h1v1h-1zM661 627h1v1h-1zM637 628h1v1h-1zM634 629h1v1h-1zM642 630h1v1h-1zM662 632h1v1h-1zM669 632h1v1h-1zM651 634h1v1h-1zM658 634h1v1h-1zM661 634h1v1h-1zM670 634h1v1h-1zM657 637h1v1h-1zM675 637h1v1h-1zM623 638h1v1h-1zM673 639h1v1h-1zM631 640h1v1h-1zM655 641h1v1h-1zM653 642h1v1h-1zM653 643h1v1h-1zM674 643h1v1h-1zM638 644h1v1h-1zM637 645h1v1h-1zM666 645h1v1h-1zM668 646h1v1h-1zM663 647h1v1h-1zM637 648h1v1h-1zM640 650h1v1h-1zM672 651h1v1h-1zM668 652h1v1h-1zM624 655h1v1h-1zM643 655h1v1h-1zM663 656h1v1h-1zM667 656h1v1h-1zM648 658h1v1h-1zM655 660h1v1h-1zM640 661h1v1h-1zM674 661h1v1h-1zM664 663h1v1h-1zM656 664h1v1h-1zM646 666h1v1h-1zM654 667h1v1h-1zM651 668h1v1h-1zM674 668h1v1h-1zM649 671h1v1h-1zM650 671h1v1h-1zM659 671h1v1h-1zM669 672h1v1h-1zM656 674h1v1h-1zM666 674h1v1h-1zM625 677h1v1h-1zM659 677h1v1h-1zM674 677h1v1h-1zM655 678h1v1h-1zM662 678h1v1h-1zM667 679h1v1h-1zM665 682h1v1h-1zM669 682h1v1h-1zM634 683h1v1h-1zM667 683h1v1h-1zM641 684h1v1h-1zM656 685h1v1h-1zM660 685h1v1h-1zM669 685h1v1h-1zM658 687h1v1h-1zM656 688h1v1h-1zM642 690h1v1h-1z"/>
<path fill="#555" d="M673 0h1v1h-1zM652 1h1v1h-1zM669 3h1v1h-1zM644 4h1v1h-1zM658 5h1v1h-1zM661 5h1v1h-1zM662 8h1v1h-1zM657 13h1v1h-1zM647 19h1v1h-1zM671 23h1v1h-1zM668 25h1v1h-1zM675 30h1v1h-1zM666 36h1v1h-1zM669 36h1v1h-1zM661 41h1v1h-1zM659 47h1v1h-1zM664 48h1v1h-1zM643 51h1v1h-1zM658 51h1v1h-1zM668 51h1v1h-1zM654 53h1v1h-1zM676 54h1v1h-1zM676 57h1v1h-1zM646 58h1v1h-1zM658 58h1v1h-1zM671 58h1v1h-1zM659 63h1v1h-1zM663 64h1v1h-1zM637 69h1v1h-1zM668 70h1v1h-1zM656 76h1v1h-1zM646 80h1v1h-1zM639 81h1v1h-1zM632 83h1v1h-1zM630 84h1v1h-1zM670 89h1v1h-1zM670 90h1v1h-1zM646 93h1v1h-1zM641 94h1v1h-1zM638 95h1v1h-1zM671 96h1v1h-1zM644 99h1v1h-1zM636 100h1v1h-1zM651 100h1v1h-1zM672 109h1v1h-1zM639 111h1v1h-1zM670 114h1v1h-1zM668 117h1v1h-1zM650 120h1v1h-1zM672 122h1v1h-1zM674 123h1v1h-1zM653 124h1v1h-1zM667 127h1v1h-1zM659 129h1v1h-1zM670 131h1v1h-1zM665 134h1v1h-1zM657 135h1v1h-1zM676 135h1v1h-1zM661 137h1v1h-1zM668 138h1v1h-1zM673 138h1v1h-1zM668 145h1v1h-1zM675 146h1v1h-1zM667 150h1v1h-1zM671 152h1v1h-1zM645 154h1v1h-1zM648 157h1v1h-1zM671 157h1v1h-1zM648 158h1v1h-1zM668 158h1v1h-1zM676 159h1v1h-1zM655 161h1v1h-1zM668 161h1v1h-1zM663 165h1v1h-1zM648 166h1v1h-1zM652 167h1v1h-1zM653 172h1v1h-1zM647 174h1v1h-1zM665 175h1v1h-1zM669 176h1v1h-1zM671 178h1v1h-1zM673 179h1v1h-1zM671 183h1v1h-1zM652 184h1v1h-1zM665 192h1v1h-1zM671 198h1v1h-1zM633 199h1v1h-1zM651 199h1v1h-1zM647 200h1v1h-1zM657 203h1v1h-1zM668 203h1v1h-1zM641 204h1v1h-1zM656 207h1v1h-1zM675 208h1v1h-1zM651 209h1v1h-1zM655 209h1v1h-1zM662 210h1v1h-1zM662 211h1v1h-1zM639 214h1v1h-1zM649 215h1v1h-1zM645 216h1v1h-1zM631 220h1v1h-1zM657 220h1v1h-1zM658 221h1v1h-1zM659 221h1v1h-1zM649 223h1v1h-1zM649 226h1v1h-1zM658 228h1v1h-1zM658 229h1v1h-1zM641 230h1v1h-1zM649 233h1v1h-1zM655 234h1v1h-1zM639 236h1v1h-1zM665 238h1v1h-1zM670 238h1v1h-1zM672 238h1v1h-1zM658 240h1v1h-1zM650 243h1v1h-1zM670 244h1v1h-1zM665 248h1v1h-1zM627 249h1v1h-1zM660 250h1v1h-1zM662 255h1v1h-1zM636 256h1v1h-1zM650 257h1v1h-1zM630 259h1v1h-1zM654 259h1v1h-1zM668 260h1v1h-1zM653 261h1v1h-1zM663 264h1v1h-1zM670 264h1v1h-1zM658 267h1v1h-1zM647 268h1v1h-1zM671 274h1v1h-1zM658 277h1v1h-1zM664 277h1v1h-1zM671 277h1v1h-1zM639 279h1v1h-1zM668 281h1v1h-1zM663 283h1v1h-1zM664 283h1v1h-1zM653 284h1v1h-1zM647 287h1v1h-1zM661 294h1v1h-1zM676 295h1v1h-1zM662 296h1v1h-1zM676 299h1v1h-1zM671 300h1v1h-1zM672 305h1v1h-1zM651 308h1v1h-1zM631 309h1v1h-1zM662 309h1v1h-1zM676 309h1v1h-1zM647 310h1v1h-1zM651 313h1v1h-1zM658 313h1v1h-1zM651 315h1v1h-1zM675 320h1v1h-1zM667 325h1v1h-1zM665 326h1v1h-1zM669 328h1v1h-1zM656 329h1v1h-1zM643 336h1v1h-1zM656 341h1v1h-1zM674 341h1v1h-1zM676 341h1v1h-1zM665 342h1v1h-1zM655 343h1v1h-1zM637 346h1v1h-1zM629 349h1v1h-1zM673 349h1v1h-1zM646 350h1v1h-1zM676 350h1v1h-1zM642 354h1v1h-1zM673 354h1v1h-1zM649 355h1v1h-1zM670 356h1v1h-1zM658 357h1v1h-1zM667 359h1v1h-1zM672 360h1v1h-1zM652 363h1v1h-1zM650 365h1v1h-1zM653 365h1v1h-1zM645 367h1v1h-1zM656 367h1v1h-1zM669 368h1v1h-1zM624 370h1v1h-1zM662 372h1v1h-1zM648 375h1v1h-1zM662 375h1v1h-1zM675 375h1v1h-1zM641 376h1v1h-1zM650 376h1v1h-1zM651 377h1v1h-1zM660 378h1v1h-1zM667 378h1v1h-1zM661 379h1v1h-1zM670 379h1v1h-1zM670 380h1v1h-1zM636 381h1v1h-1zM661 381h1v1h-1zM663 381h1v1h-1zM637 382h1v1h-1zM660 382h1v1h-1zM669 382h1v1h-1zM657 383h1v1h-1zM672 394h1v1h-1zM653 395h1v1h-1zM648 396h1v1h-1zM665 396h1v1h-1zM634 398h1v1h-1zM668 399h1v1h-1zM673 399h1v1h-1zM670 400h1v1h-1zM654 401h1v1h-1zM653 402h1v1h-1zM675 402h1v1h-1zM638 410h1v1h-1zM675 413h1v1h-1zM664 414h1v1h-1zM646 420h1v1h-1zM636 421h1v1h-1zM676 422h1v1h-1zM655 428h1v1h-1zM662 428h1v1h-1zM673 428h1v1h-1zM667 433h1v1h-1zM661 441h1v1h-1zM657 444h1v1h-1zM664 445h1v1h-1zM665 446h1v1h-1zM651 448h1v1h-1zM657 456h1v1h-1zM664 456h1v1h-1zM640 457h1v1h-1zM642 460h1v1h-1zM655 461h1v1h-1zM661 463h1v1h-1zM653 464h1v1h-1zM662 464h1v1h-1zM667 467h1v1h-1zM652 468h1v1h-1zM651 473h1v1h-1zM635 476h1v1h-1zM676 477h1v1h-1zM648 483h1v1h-1zM651 483h1v1h-1zM654 486h1v1h-1zM646 488h1v1h-1zM650 491h1v1h-1zM672 493h1v1h-1zM671 494h1v1h-1zM675 494h1v1h-1zM661 498h1v1h-1zM660 502h1v1h-1zM661 502h1v1h-1zM649 504h1v1h-1zM643 505h1v1h-1zM663 506h1v1h-1zM660 510h1v1h-1zM653 511h1v1h-1zM633 517h1v1h-1zM644 519h1v1h-1zM676 520h1v1h-1zM643 523h1v1h-1zM647 523h1v1h-1zM632 526h1v1h-1zM669 528h1v1h-1zM673 528h1v1h-1zM637 530h1v1h-1zM666 530h1v1h-1zM657 533h1v1h-1zM660 533h1v1h-1zM669 537h1v1h-1zM669 542h1v1h-1zM656 543h1v1h-1zM657 543h1v1h-1zM651 544h1v1h-1zM656 545h1v1h-1zM676 549h1v1h-1zM654 555h1v1h-1zM655 555h1v1h-1zM667 555h1v1h-1zM644 556h1v1h-1zM673 556h1v1h-1zM668 558h1v1h-1zM665 560h1v1h-1zM668 560h1v1h-1zM659 562h1v1h-1zM631 563h1v1h-1zM665 563h1v1h-1zM637 564h1v1h-1zM664 564h1v1h-1zM655 566h1v1h-1zM670 566h1v1h-1zM641 568h1v1h-1zM671 571h1v1h-1zM644 572h1v1h-1zM654 577h1v1h-1zM656 577h1v1h-1zM661 577h1v1h-1zM652 578h1v1h-1zM663 578h1v1h-1zM672 581h1v1h-1zM663 582h1v1h-1zM669 583h1v1h-1zM668 588h1v1h-1zM671 589h1v1h-1zM641 590h1v1h-1zM661 591h1v1h-1zM671 594h1v1h-1zM641 597h1v1h-1zM672 597h1v1h-1zM650 600h1v1h-1zM630 604h1v1h-1zM648 610h1v1h-1zM623 616h1v1h-1zM654 616h1v1h-1zM662 616h1v1h-1zM653 620h1v1h-1zM656 620h1v1h-1zM640 623h1v1h-1zM649 623h1v1h-1zM631 625h1v1h-1zM652 627h1v1h-1zM662 627h1v1h-1zM676 629h1v1h-1zM675 630h1v1h-1zM673 631h1v1h-1zM671 632h1v1h-1zM642 633h1v1h-1zM657 635h1v1h-1zM661 638h1v1h-1zM666 638h1v1h-1zM662 641h1v1h-1zM666 641h1v1h-1zM669 641h1v1h-1zM670 642h1v1h-1zM673 642h1v1h-1zM653 645h1v1h-1zM646 646h1v1h-1zM652 646h1v1h-1zM657 648h1v1h-1zM664 649h1v1h-1zM665 650h1v1h-1zM674 650h1v1h-1zM669 651h1v1h-1zM645 652h1v1h-1zM673 653h1v1h-1zM651 656h1v1h-1zM660 657h1v1h-1zM657 658h1v1h-1zM642 660h1v1h-1zM653 660h1v1h-1zM657 665h1v1h-1zM633 668h1v1h-1zM647 668h1v1h-1zM643 669h1v1h-1zM673 672h1v1h-1zM634 675h1v1h-1zM635 678h1v1h-1zM644 678h1v1h-1zM659 678h1v1h-1zM659 679h1v1h-1zM627 682h1v1h-1zM658 682h1v1h-1zM644 686h1v1h-1zM674 687h1v1h-1z"/>
<path fill="#aaa" d="M669 1h1v1h-1zM647 5h1v1h-1zM653 5h1v1h-1zM669 5h1v1h-1zM672 5h1v1h-1zM655 10h1v1h-1zM665 13h1v1h-1zM666 14h1v1h-1zM670 16h1v1h-1zM676 16h1v1h-1zM645 19h1v1h-1zM670 20h1v1h-1zM666 21h1v1h-1zM666 22h1v1h-1zM662 26h1v1h-1zM628 28h1v1h-1zM668 29h1v1h-1zM666 35h1v1h-1zM665 37h1v1h-1zM664 41h1v1h-1zM639 42h1v1h-1zM672 45h1v1h-1zM669 46h1v1h-1zM660 48h1v1h-1zM676 48h1v1h-1zM642 50h1v1h-1zM667 53h1v1h-1zM658 54h1v1h-1zM636 57h1v1h-1zM654 57h1v1h-1zM669 58h1v1h-1zM657 59h1v1h-1zM659 60h1v1h-1zM668 65h1v1h-1zM664 67h1v1h-1zM676 67h1v1h-1zM632 68h1v1h-1zM668 68h1v1h-1zM674 69h1v1h-1zM660 70h1v1h-1zM667 70h1v1h-1zM670 72h1v1h-1zM647 75h1v1h-1zM651 76h1v1h-1zM654 77h1v1h-1zM673 77h1v1h-1zM662 80h1v1h-1zM663 83h1v1h-1zM660 87h1v1h-1zM661 87h1v1h-1zM663 87h1v1h-1zM639 88h1v1h-1zM666 88h1v1h-1zM668 89h1v1h-1zM652 90h1v1h-1zM670 92h1v1h-1zM632 94h1v1h-1zM651 94h1v1h-1zM647 95h1v1h-1zM661 95h1v1h-1zM675 96h1v1h-1zM664 97h1v1h-1zM665 99h1v1h-1zM669 99h1v1h-1zM637 101h1v1h-1zM660 101h1v1h-1zM659 102h1v1h-1zM645 104h1v1h-1zM660 104h1v1h-1zM675 104h1v1h-1zM653 109h1v1h-1zM648 110h1v1h-1zM669 110h1v1h-1zM665 115h1v1h-1zM672 116h1v1h-1zM672 117h1v1h-1zM663 118h1v1h-1zM647 119h1v1h-1zM673 122h1v1h-1zM664 124h1v1h-1zM672 124h1v1h-1zM671 125h1v1h-1zM647 126h1v1h-1zM668 129h1v1h-1zM655 131h1v1h-1zM674 133h1v1h-1zM676 137h1v1h-1zM674 138h1v1h-1zM662 142h1v1h-1zM655 143h1v1h-1zM674 147h1v1h-1zM674 148h1v1h-1zM672 150h1v1h-1zM676 153h1v1h-1zM668 154h1v1h-1zM650 159h1v1h-1zM662 159h1v1h-1zM675 161h1v1h-1zM656 163h1v1h-1zM656 165h1v1h-1zM675 165h1v1h-1zM636 167h1v1h-1zM649 168h1v1h-1zM674 168h1v1h-1zM650 170h1v1h-1zM662 170h1v1h-1zM660 171h1v1h-1zM641 173h1v1h-1zM658 173h1v1h-1zM663 173h1v1h-1zM674 176h1v1h-1zM667 179h1v1h-1zM672 179h1v1h-1zM647 180h1v1h-1zM651 180h1v1h-1zM664 181h1v1h-1zM671 181h1v1h-1zM645 182h1v1h-1zM639 183h1v1h-1zM635 184h1v1h-1zM641 184h1v1h-1zM661 184h1v1h-1zM642 185h1v1h-1zM629 186h1v1h-1zM675 187h1v1h-1zM640 189h1v1h-1zM664 189h1v1h-1zM660 190h1v1h-1zM675 190h1v1h-1zM655 192h1v1h-1zM661 192h1v1h-1zM670 194h1v1h-1zM641 198h1v1h-1zM654 198h1v1h-1zM656 198h1v1h-1zM660 198h1v1h-1zM661 198h1v1h-1zM653 199h1v1h-1zM650 201h1v1h-1zM674 203h1v1h-1zM665 204h1v1h-1zM656 206h1v1h-1zM649 209h1v1h-1zM656 209h1v1h-1zM673 209h1v1h-1zM648 210h1v1h-1zM645 211h1v1h-1zM656 213h1v1h-1zM643 214h1v1h-1zM673 214h1v1h-1zM675 215h1v1h-1zM653 216h1v1h-1zM646 217h1v1h-1zM667 217h1v1h-1zM676 217h1v1h-1zM642 218h1v1h-1zM653 218h1v1h-1zM635 222h1v1h-1zM671 222h1v1h-1zM666 223h1v1h-1zM661 224h1v1h-1zM663 224h1v1h-1zM651 225h1v1h-1zM660 225h1v1h-1zM664 225h1v1h-1zM668 226h1v1h-1zM664 227h1v1h-1zM672 228h1v1h-1zM675 228h1v1h-1zM639 229h1v1h-1zM670 229h1v1h-1zM665 230h1v1h-1zM640 231h1v1h-1zM658 231h1v1h-1zM668 231h1v1h-1zM672 231h1v1h-1zM659 233h1v1h-1zM632 234h1v1h-1zM643 234h1v1h-1zM652 234h1v1h-1zM650 235h1v1h-1zM646 237h1v1h-1zM631 238h1v1h-1zM658 238h1v1h-1zM621 239h1v1h-1zM671 241h1v1h-1zM675 243h1v1h-1zM636 244h1v1h-1zM636 245h1v1h-1zM669 245h1v1h-1zM644 247h1v1h-1zM660 247h1v1h-1zM656 250h1v1h-1zM665 250h1v1h-1zM668 250h1v1h-1zM660 252h1v1h-1zM666 252h1v1h-1zM667 252h1v1h-1zM672 252h1v1h-1zM674 252h1v1h-1zM663 253h1v1h-1zM659 254h1v1h-1zM649 255h1v1h-1zM665 255h1v1h-1zM670 255h1v1h-1zM664 256h1v1h-1zM640 258h1v1h-1zM670 258h1v1h-1zM666 259h1v1h-1zM626 260h1v1h-1zM644 260h1v1h-1zM643 262h1v1h-1zM647 262h1v1h-1zM649 262h1v1h-1zM653 264h1v1h-1zM639 266h1v1h-1zM667 266h1v1h-1zM650 268h1v1h-1zM665 272h1v1h-1zM666 272h1v1h-1zM636 274h1v1h-1zM674 277h1v1h-1zM636 280h1v1h-1zM661 280h1v1h-1zM651 281h1v1h-1zM660 281h1v1h-1zM655 282h1v1h-1zM661 283h1v1h-1zM666 283h1v1h-1zM660 286h1v1h-1zM663 286h1v1h-1zM635 287h1v1h-1zM652 287h1v1h-1zM669 287h1v1h-1zM664 288h1v1h-1zM672 289h1v1h-1zM640 290h1v1h-1zM648 293h1v1h-1zM662 293h1v1h-1zM660 297h1v1h-1zM661 299h1v1h-1zM649 303h1v1h-1zM671 304h1v1h-1zM632 305h1v1h-1zM666 308h1v1h-1zM641 312h1v1h-1zM670 312h1v1h-1zM670 313h1v1h-1zM646 314h1v1h-1zM659 314h1v1h-1zM638 315h1v1h-1zM641 315h1v1h-1zM658 315h1v1h-1zM628 317h1v1h-1zM633 317h1v1h-1zM650 317h1v1h-1zM630 319h1v1h-1zM650 320h1v1h-1zM635 323h1v1h-1zM628 324h1v1h-1zM628 326h1v1h-1zM637 326h1v1h-1zM654 328h1v1h-1zM656 328h1v1h-1zM656 331h1v1h-1zM639 332h1v1h-1zM659 333h1v1h-1zM664 333h1v1h-1zM643 335h1v1h-1zM655 337h1v1h-1zM646 338h1v1h-1zM665 338h1v1h-1zM623 340h1v1h-1zM672 340h1v1h-1zM671 343h1v1h-1zM644 344h1v1h-1zM663 346h1v1h-1zM628 347h1v1h-1zM653 347h1v1h-1zM647 348h1v1h-1zM642 349h1v1h-1zM649 349h1v1h-1zM667 349h1v1h-1zM649 350h1v1h-1zM632 351h1v1h-1zM646 352h1v1h-1zM663 354h1v1h-1zM665 354h1v1h-1zM655 356h1v1h-1zM675 356h1v1h-1zM638 357h1v1h-1zM673 359h1v1h-1zM651 360h1v1h-1zM664 360h1v1h-1zM675 361h1v1h-1zM674 362h1v1h-1zM662 364h1v1h-1zM622 365h1v1h-1zM642 370h1v1h-1zM653 370h1v1h-1zM657 371h1v1h-1zM674 371h1v1h-1zM651 372h1v1h-1zM661 373h1v1h-1zM662 373h1v1h-1zM653 376h1v1h-1zM673 376h1v1h-1zM666 379h1v1h-1zM658 380h1v1h-1zM669 380h1v1h-1zM631 382h1v1h-1zM655 383h1v1h-1zM662 388h1v1h-1zM661 389h1v1h-1zM670 390h1v1h-1zM645 392h1v1h-1zM667 393h1v1h-1zM642 396h1v1h-1zM675 396h1v1h-1zM676 404h1v1h-1zM652 405h1v1h-1zM674 406h1v1h-1zM648 407h1v1h-1zM661 407h1v1h-1zM668 409h1v1h-1zM658 410h1v1h-1zM664 411h1v1h-1zM673 414h1v1h-1zM661 415h1v1h-1zM664 416h1v1h-1zM674 417h1v1h-1zM670 419h1v1h-1zM652 420h1v1h-1zM656 420h1v1h-1zM663 421h1v1h-1zM673 422h1v1h-1zM673 426h1v1h-1zM671 432h1v1h-1zM666 433h1v1h-1zM676 437h1v1h-1zM672 438h1v1h-1zM650 441h1v1h-1zM647 442h1v1h-1zM666 443h1v1h-1zM674 443h1v1h-1zM674 444h1v1h-1zM654 445h1v1h-1zM669 447h1v1h-1zM670 447h1v1h-1zM659 450h1v1h-1zM671 451h1v1h-1zM674 451h1v1h-1zM670 453h1v1h-1zM649 455h1v1h-1zM656 457h1v1h-1zM645 458h1v1h-1zM655 458h1v1h-1zM667 459h1v1h-1zM641 461h1v1h-1zM653 463h1v1h-1zM667 463h1v1h-1zM669 464h1v1h-1zM675 465h1v1h-1zM675 466h1v1h-1zM666 468h1v1h-1zM658 471h1v1h-1zM669 473h1v1h-1zM658 474h1v1h-1zM664 474h1v1h-1zM667 476h1v1h-1zM637 477h1v1h-1zM659 478h1v1h-1zM671 478h1v1h-1zM667 485h1v1h-1zM662 487h1v1h-1zM652 488h1v1h-1zM669 488h1v1h-1zM672 488h1v1h-1zM658 491h1v1h-1zM675 491h1v1h-1zM648 492h1v1h-1zM660 493h1v1h-1zM657 498h1v1h-1zM665 499h1v1h-1zM648 502h1v1h-1zM674 503h1v1h-1zM637 506h1v1h-1zM668 506h1v1h-1zM675 506h1v1h-1zM667 507h1v1h-1zM644 510h1v1h-1zM641 511h1v1h-1zM654 511h1v1h-1zM670 511h1v1h-1zM675 513h1v1h-1zM633 514h1v1h-1zM676 515h1v1h-1zM652 516h1v1h-1zM658 516h1v1h-1zM660 516h1v1h-1zM662 516h1v1h-1zM650 518h1v1h-1zM674 518h1v1h-1zM673 519h1v1h-1zM671 522h1v1h-1zM647 525h1v1h-1zM661 526h1v1h-1zM652 528h1v1h-1zM644 530h1v1h-1zM647 534h1v1h-1zM663 536h1v1h-1zM629 537h1v1h-1zM676 540h1v1h-1zM637 542h1v1h-1zM659 543h1v1h-1zM653 544h1v1h-1zM667 544h1v1h-1zM673 544h1v1h-1zM646 546h1v1h-1zM640 548h1v1h-1zM647 548h1v1h-1zM663 548h1v1h-1zM664 548h1v1h-1zM673 548h1v1h-1zM669 549h1v1h-1zM672 549h1v1h-1zM658 550h1v1h-1zM667 552h1v1h-1zM676 556h1v1h-1zM636 558h1v1h-1zM665 558h1v1h-1zM639 559h1v1h-1zM663 559h1v1h-1zM645 561h1v1h-1zM647 564h1v1h-1zM650 567h1v1h-1zM664 567h1v1h-1zM654 569h1v1h-1zM629 570h1v1h-1zM662 570h1v1h-1zM642 571h1v1h-1zM669 571h1v1h-1zM632 572h1v1h-1zM653 572h1v1h-1zM661 572h1v1h-1zM675 572h1v1h-1zM669 573h1v1h-1zM629 574h1v1h-1zM648 577h1v1h-1zM668 578h1v1h-1zM637 579h1v1h-1zM653 579h1v1h-1zM655 579h1v1h-1zM663 579h1v1h-1zM648 580h1v1h-1zM664 580h1v1h-1zM649 581h1v1h-1zM674 582h1v1h-1zM635 585h1v1h-1zM639 586h1v1h-1zM671 586h1v1h-1zM675 586h1v1h-1zM658 588h1v1h-1zM664 588h1v1h-1zM649 591h1v1h-1zM635 592h1v1h-1zM628 595h1v1h-1zM629 595h1v1h-1zM661 595h1v1h-1zM668 596h1v1h-1zM648 598h1v1h-1zM660 599h1v1h-1zM654 600h1v1h-1zM672 601h1v1h-1zM664 602h1v1h-1zM652 603h1v1h-1zM663 604h1v1h-1zM647 606h1v1h-1zM663 607h1v1h-1zM675 607h1v1h-1zM672 608h1v1h-1zM675 608h1v1h-1zM672 609h1v1h-1zM636 612h1v1h-1zM635 613h1v1h-1zM645 613h1v1h-1zM650 613h1v1h-1zM658 613h1v1h-1zM664 614h1v1h-1zM656 615h1v1h-1zM657 616h1v1h-1zM658 616h1v1h-1zM674 616h1v1h-1zM655 617h1v1h-1zM658 617h1v1h-1zM656 618h1v1h-1zM666 618h1v1h-1zM672 619h1v1h-1zM673 620h1v1h-1zM663 621h1v1h-1zM664 622h1v1h-1zM662 624h1v1h-1zM666 624h1v1h-1zM631 628h1v1h-1zM639 628h1v1h-1zM656 628h1v1h-1zM663 629h1v1h-1zM675 629h1v1h-1zM662 630h1v1h-1zM673 630h1v1h-1zM636 631h1v1h-1zM648 632h1v1h-1zM646 634h1v1h-1zM660 637h1v1h-1zM670 637h1v1h-1zM662 638h1v1h-1zM670 638h1v1h-1zM670 639h1v1h-1zM654 640h1v1h-1zM676 640h1v1h-1zM671 641h1v1h-1zM661 643h1v1h-1zM642 644h1v1h-1zM652 644h1v1h-1zM659 645h1v1h-1zM659 646h1v1h-1zM651 649h1v1h-1zM636 650h1v1h-1zM658 653h1v1h-1zM658 655h1v1h-1zM639 658h1v1h-1zM653 658h1v1h-1zM655 658h1v1h-1zM617 659h1v1h-1zM657 659h1v1h-1zM662 659h1v1h-1zM665 659h1v1h-1zM665 660h1v1h-1zM611 661h1v1h-1zM649 661h1v1h-1zM615 662h1v1h-1zM660 664h1v1h-1zM651 665h1v1h-1zM654 665h1v1h-1zM655 665h1v1h-1zM673 667h1v1h-1zM666 668h1v1h-1zM673 669h1v1h-1zM664 670h1v1h-1zM670 670h1v1h-1zM665 671h1v1h-1zM640 673h1v1h-1zM655 674h1v1h-1zM660 674h1v1h-1zM640 675h1v1h-1zM661 675h1v1h-1zM672 675h1v1h-1zM674 675h1v1h-1zM636 676h1v1h-1zM661 676h1v1h-1zM665 677h1v1h-1zM652 678h1v1h-1zM665 679h1v1h-1zM656 681h1v1h-1zM656 683h1v1h-1zM658 685h1v1h-1zM644 687h1v1h-1zM661 688h1v1h-1zM664 688h1v1h-1zM669 689h1v1h-1zM673 689h1v1h-1zM645 690h1v1h-1zM673 690h1v1h-1zM646 691h1v1h-1zM650 691h1v1h-1z"/>
<path fill="#d8d8d8" d="M675 1h1v1h-1zM651 2h1v1h-1zM672 3h1v1h-1zM651 6h1v1h-1zM645 8h1v1h-1zM663 8h1v1h-1zM676 9h1v1h-1zM655 11h1v1h-1zM671 13h1v1h-1zM648 14h1v1h-1zM658 18h1v1h-1zM648 21h1v1h-1zM668 22h1v1h-1zM654 23h1v1h-1zM675 24h1v1h-1zM673 26h1v1h-1zM665 30h1v1h-1zM638 31h1v1h-1zM656 31h1v1h-1zM662 31h1v1h-1zM676 31h1v1h-1zM646 35h1v1h-1zM650 39h1v1h-1zM663 39h1v1h-1zM673 43h1v1h-1zM636 45h1v1h-1zM670 46h1v1h-1zM663 47h1v1h-1zM665 47h1v1h-1zM673 48h1v1h-1zM652 50h1v1h-1zM655 50h1v1h-1zM666 51h1v1h-1zM645 52h1v1h-1zM674 53h1v1h-1zM663 54h1v1h-1zM669 55h1v1h-1zM675 55h1v1h-1zM643 56h1v1h-1zM674 57h1v1h-1zM652 58h1v1h-1zM674 60h1v1h-1zM664 61h1v1h-1zM676 65h1v1h-1zM672 66h1v1h-1zM668 73h1v1h-1zM656 74h1v1h-1zM659 75h1v1h-1zM634 78h1v1h-1zM644 79h1v1h-1zM649 80h1v1h-1zM667 86h1v1h-1zM633 91h1v1h-1zM657 91h1v1h-1zM676 91h1v1h-1zM658 93h1v1h-1zM668 93h1v1h-1zM667 94h1v1h-1zM649 95h1v1h-1zM628 97h1v1h-1zM662 101h1v1h-1zM649 104h1v1h-1zM659 108h1v1h-1zM657 116h1v1h-1zM667 117h1v1h-1zM665 119h1v1h-1zM635 122h1v1h-1zM635 123h1v1h-1zM661 123h1v1h-1zM644 124h1v1h-1zM671 124h1v1h-1zM666 125h1v1h-1zM671 128h1v1h-1zM672 128h1v1h-1zM655 129h1v1h-1zM665 143h1v1h-1zM671 144h1v1h-1zM674 145h1v1h-1zM637 149h1v1h-1zM643 150h1v1h-1zM653 150h1v1h-1zM661 152h1v1h-1zM662 153h1v1h-1zM634 154h1v1h-1zM636 161h1v1h-1zM661 161h1v1h-1zM676 161h1v1h-1zM633 162h1v1h-1zM666 163h1v1h-1zM639 164h1v1h-1zM660 164h1v1h-1zM674 164h1v1h-1zM655 173h1v1h-1zM673 174h1v1h-1zM653 176h1v1h-1zM667 177h1v1h-1zM670 177h1v1h-1zM672 177h1v1h-1zM660 181h1v1h-1zM674 184h1v1h-1zM660 185h1v1h-1zM662 187h1v1h-1zM659 188h1v1h-1zM674 191h1v1h-1zM646 192h1v1h-1zM656 192h1v1h-1zM635 193h1v1h-1zM649 195h1v1h-1zM664 196h1v1h-1zM673 196h1v1h-1zM658 198h1v1h-1zM663 199h1v1h-1zM644 201h1v1h-1zM661 202h1v1h-1zM637 205h1v1h-1zM658 205h1v1h-1zM669 205h1v1h-1zM634 206h1v1h-1zM637 206h1v1h-1zM639 206h1v1h-1zM651 213h1v1h-1zM670 214h1v1h-1zM637 215h1v1h-1zM614 217h1v1h-1zM656 217h1v1h-1zM676 219h1v1h-1zM637 220h1v1h-1zM638 221h1v1h-1zM662 222h1v1h-1zM676 222h1v1h-1zM659 223h1v1h-1zM655 224h1v1h-1zM627 225h1v1h-1zM644 226h1v1h-1zM651 226h1v1h-1zM658 227h1v1h-1zM672 227h1v1h-1zM639 230h1v1h-1zM653 230h1v1h-1zM658 230h1v1h-1zM665 231h1v1h-1zM632 233h1v1h-1zM648 233h1v1h-1zM656 234h1v1h-1zM647 240h1v1h-1zM649 240h1v1h-1zM656 240h1v1h-1zM660 242h1v1h-1zM651 243h1v1h-1zM668 243h1v1h-1zM627 244h1v1h-1zM651 247h1v1h-1zM658 250h1v1h-1zM656 251h1v1h-1zM623 255h1v1h-1zM655 255h1v1h-1zM663 255h1v1h-1zM664 255h1v1h-1zM655 261h1v1h-1zM669 262h1v1h-1zM627 264h1v1h-1zM645 267h1v1h-1zM657 267h1v1h-1zM673 267h1v1h-1zM657 269h1v1h-1zM644 272h1v1h-1zM640 273h1v1h-1zM662 273h1v1h-1zM664 273h1v1h-1zM660 274h1v1h-1zM672 274h1v1h-1zM650 281h1v1h-1zM665 281h1v1h-1zM674 282h1v1h-1zM658 287h1v1h-1zM659 289h1v1h-1zM663 290h1v1h-1zM663 296h1v1h-1zM667 296h1v1h-1zM649 297h1v1h-1zM636 298h1v1h-1zM646 300h1v1h-1zM648 300h1v1h-1zM658 300h1v1h-1zM671 301h1v1h-1zM664 302h1v1h-1zM662 303h1v1h-1zM669 303h1v1h-1zM659 304h1v1h-1zM661 305h1v1h-1zM652 307h1v1h-1zM647 309h1v1h-1zM652 309h1v1h-1zM676 311h1v1h-1zM676 312h1v1h-1zM676 313h1v1h-1zM676 314h1v1h-1zM654 315h1v1h-1zM650 316h1v1h-1zM669 316h1v1h-1zM637 321h1v1h-1zM645 321h1v1h-1zM634 322h1v1h-1zM652 324h1v1h-1zM653 326h1v1h-1zM654 326h1v1h-1zM672 327h1v1h-1zM665 332h1v1h-1zM669 332h1v1h-1zM655 334h1v1h-1zM670 334h1v1h-1zM671 336h1v1h-1zM672 337h1v1h-1zM674 338h1v1h-1zM651 340h1v1h-1zM671 341h1v1h-1zM651 342h1v1h-1zM674 343h1v1h-1zM661 344h1v1h-1zM669 344h1v1h-1zM658 345h1v1h-1zM650 348h1v1h-1zM659 348h1v1h-1zM674 348h1v1h-1zM665 349h1v1h-1zM669 349h1v1h-1zM662 351h1v1h-1zM623 352h1v1h-1zM659 356h1v1h-1zM643 357h1v1h-1zM652 357h1v1h-1zM664 361h1v1h-1zM660 362h1v1h-1zM669 366h1v1h-1zM668 370h1v1h-1zM676 370h1v1h-1zM670 373h1v1h-1zM673 373h1v1h-1zM675 373h1v1h-1zM656 374h1v1h-1zM674 376h1v1h-1zM676 378h1v1h-1zM649 380h1v1h-1zM652 380h1v1h-1zM656 380h1v1h-1zM674 382h1v1h-1zM667 385h1v1h-1zM638 386h1v1h-1zM672 389h1v1h-1zM649 390h1v1h-1zM654 390h1v1h-1zM673 391h1v1h-1zM653 394h1v1h-1zM654 395h1v1h-1zM658 395h1v1h-1zM643 397h1v1h-1zM662 400h1v1h-1zM665 403h1v1h-1zM648 404h1v1h-1zM674 405h1v1h-1zM654 406h1v1h-1zM640 408h1v1h-1zM661 409h1v1h-1zM667 410h1v1h-1zM676 410h1v1h-1zM655 412h1v1h-1zM654 416h1v1h-1zM671 419h1v1h-1zM656 421h1v1h-1zM672 422h1v1h-1zM669 425h1v1h-1zM637 431h1v1h-1zM648 434h1v1h-1zM651 436h1v1h-1zM656 436h1v1h-1zM657 437h1v1h-1zM673 438h1v1h-1zM651 440h1v1h-1zM649 444h1v1h-1zM668 446h1v1h-1zM672 452h1v1h-1zM660 459h1v1h-1zM666 460h1v1h-1zM649 461h1v1h-1zM660 464h1v1h-1zM655 466h1v1h-1zM659 468h1v1h-1zM666 470h1v1h-1zM675 471h1v1h-1zM673 473h1v1h-1zM659 476h1v1h-1zM670 476h1v1h-1zM643 478h1v1h-1zM661 478h1v1h-1zM668 479h1v1h-1zM644 483h1v1h-1zM670 484h1v1h-1zM669 485h1v1h-1zM675 485h1v1h-1zM658 486h1v1h-1zM655 487h1v1h-1zM675 487h1v1h-1zM648 490h1v1h-1zM632 491h1v1h-1zM648 491h1v1h-1zM648 493h1v1h-1zM663 494h1v1h-1zM667 495h1v1h-1zM665 496h1v1h-1zM626 497h1v1h-1zM649 502h1v1h-1zM640 503h1v1h-1zM648 503h1v1h-1zM667 503h1v1h-1zM655 504h1v1h-1zM659 504h1v1h-1zM643 509h1v1h-1zM656 511h1v1h-1zM660 511h1v1h-1zM671 513h1v1h-1zM646 514h1v1h-1zM660 518h1v1h-1zM639 523h1v1h-1zM675 524h1v1h-1zM652 525h1v1h-1zM653 525h1v1h-1zM621 526h1v1h-1zM646 529h1v1h-1zM661 531h1v1h-1zM665 538h1v1h-1zM674 538h1v1h-1zM667 539h1v1h-1zM625 541h1v1h-1zM675 542h1v1h-1zM666 543h1v1h-1zM663 545h1v1h-1zM670 546h1v1h-1zM669 547h1v1h-1zM665 549h1v1h-1zM667 549h1v1h-1zM643 550h1v1h-1zM646 551h1v1h-1zM668 552h1v1h-1zM650 553h1v1h-1zM644 554h1v1h-1zM660 554h1v1h-1zM667 554h1v1h-1zM670 555h1v1h-1zM662 556h1v1h-1zM658 558h1v1h-1zM673 558h1v1h-1zM649 559h1v1h-1zM661 562h1v1h-1zM668 566h1v1h-1zM671 566h1v1h-1zM676 567h1v1h-1zM658 570h1v1h-1zM676 570h1v1h-1zM662 571h1v1h-1zM644 573h1v1h-1zM666 574h1v1h-1zM673 574h1v1h-1zM640 577h1v1h-1zM646 577h1v1h-1zM658 577h1v1h-1zM659 578h1v1h-1zM647 579h1v1h-1zM674 580h1v1h-1zM664 581h1v1h-1zM676 581h1v1h-1zM649 582h1v1h-1zM673 584h1v1h-1zM642 586h1v1h-1zM676 586h1v1h-1zM649 587h1v1h-1zM660 588h1v1h-1zM669 590h1v1h-1zM651 592h1v1h-1zM669 592h1v1h-1zM651 593h1v1h-1zM654 593h1v1h-1zM670 593h1v1h-1zM662 594h1v1h-1zM667 600h1v1h-1zM666 603h1v1h-1zM670 603h1v1h-1zM661 604h1v1h-1zM675 604h1v1h-1zM634 605h1v1h-1zM629 609h1v1h-1zM644 610h1v1h-1zM650 610h1v1h-1zM637 612h1v1h-1zM659 612h1v1h-1zM655 613h1v1h-1zM617 617h1v1h-1zM621 623h1v1h-1zM658 625h1v1h-1zM634 630h1v1h-1zM663 630h1v1h-1zM665 630h1v1h-1zM629 631h1v1h-1zM647 632h1v1h-1zM666 633h1v1h-1zM669 635h1v1h-1zM637 636h1v1h-1zM658 636h1v1h-1zM672 636h1v1h-1zM642 637h1v1h-1zM651 638h1v1h-1zM667 638h1v1h-1zM633 639h1v1h-1zM659 643h1v1h-1zM671 645h1v1h-1zM664 646h1v1h-1zM640 647h1v1h-1zM661 654h1v1h-1zM664 654h1v1h-1zM653 656h1v1h-1zM665 656h1v1h-1zM637 659h1v1h-1zM639 659h1v1h-1zM651 659h1v1h-1zM666 659h1v1h-1zM646 662h1v1h-1zM613 665h1v1h-1zM645 666h1v1h-1zM653 666h1v1h-1zM657 667h1v1h-1zM671 667h1v1h-1zM669 669h1v1h-1zM660 671h1v1h-1zM666 673h1v1h-1zM674 673h1v1h-1zM623 674h1v1h-1zM624 677h1v1h-1zM644 679h1v1h-1zM632 681h1v1h-1zM671 681h1v1h-1zM636 682h1v1h-1zM640 682h1v1h-1zM649 682h1v1h-1zM631 683h1v1h-1zM659 685h1v1h-1zM668 686h1v1h-1zM658 689h1v1h-1zM665 689h1v1h-1z"/>
<path fill="#c4c4c4" d="M645 5h1v1h-1zM668 13h1v1h-1zM674 14h1v1h-1zM641 15h1v1h-1zM673 16h1v1h-1zM672 17h1v1h-1zM643 19h1v1h-1zM663 19h1v1h-1zM674 21h1v1h-1zM661 27h1v1h-1zM635 29h1v1h-1zM661 30h1v1h-1zM652 31h1v1h-1zM663 31h1v1h-1zM641 35h1v1h-1zM673 35h1v1h-1zM662 36h1v1h-1zM663 36h1v1h-1zM674 39h1v1h-1zM668 42h1v1h-1zM662 43h1v1h-1zM668 44h1v1h-1zM633 45h1v1h-1zM649 45h1v1h-1zM652 45h1v1h-1zM661 45h1v1h-1zM645 47h1v1h-1zM655 48h1v1h-1zM668 49h1v1h-1zM673 49h1v1h-1zM670 52h1v1h-1zM661 53h1v1h-1zM650 56h1v1h-1zM665 56h1v1h-1zM659 59h1v1h-1zM664 60h1v1h-1zM675 60h1v1h-1zM632 61h1v1h-1zM634 61h1v1h-1zM659 62h1v1h-1zM668 63h1v1h-1zM668 64h1v1h-1zM669 65h1v1h-1zM674 65h1v1h-1zM648 68h1v1h-1zM661 70h1v1h-1zM640 73h1v1h-1zM648 74h1v1h-1zM661 77h1v1h-1zM670 77h1v1h-1zM671 77h1v1h-1zM668 79h1v1h-1zM654 80h1v1h-1zM676 80h1v1h-1zM666 81h1v1h-1zM674 82h1v1h-1zM662 83h1v1h-1zM643 84h1v1h-1zM666 91h1v1h-1zM669 91h1v1h-1zM628 95h1v1h-1zM664 96h1v1h-1zM661 97h1v1h-1zM675 97h1v1h-1zM659 98h1v1h-1zM647 100h1v1h-1zM655 100h1v1h-1zM676 100h1v1h-1zM671 103h1v1h-1zM658 104h1v1h-1zM669 104h1v1h-1zM671 108h1v1h-1zM672 110h1v1h-1zM658 111h1v1h-1zM656 115h1v1h-1zM668 116h1v1h-1zM674 116h1v1h-1zM659 118h1v1h-1zM656 119h1v1h-1zM662 120h1v1h-1zM664 120h1v1h-1zM665 124h1v1h-1zM633 126h1v1h-1zM673 127h1v1h-1zM653 128h1v1h-1zM660 128h1v1h-1zM675 131h1v1h-1zM668 134h1v1h-1zM668 139h1v1h-1zM663 141h1v1h-1zM667 141h1v1h-1zM673 143h1v1h-1zM676 143h1v1h-1zM665 145h1v1h-1zM646 149h1v1h-1zM662 149h1v1h-1zM676 151h1v1h-1zM664 154h1v1h-1zM670 156h1v1h-1zM655 158h1v1h-1zM667 161h1v1h-1zM667 164h1v1h-1zM650 165h1v1h-1zM662 166h1v1h-1zM673 166h1v1h-1zM665 167h1v1h-1zM651 169h1v1h-1zM664 171h1v1h-1zM667 171h1v1h-1zM640 172h1v1h-1zM641 172h1v1h-1zM640 173h1v1h-1zM657 174h1v1h-1zM673 176h1v1h-1zM669 177h1v1h-1zM637 178h1v1h-1zM662 178h1v1h-1zM651 179h1v1h-1zM662 180h1v1h-1zM658 181h1v1h-1zM665 189h1v1h-1zM662 191h1v1h-1zM674 192h1v1h-1zM637 194h1v1h-1zM645 194h1v1h-1zM647 197h1v1h-1zM656 197h1v1h-1zM645 198h1v1h-1zM672 198h1v1h-1zM667 199h1v1h-1zM634 201h1v1h-1zM671 202h1v1h-1zM647 205h1v1h-1zM672 205h1v1h-1zM646 206h1v1h-1zM669 206h1v1h-1zM630 207h1v1h-1zM661 208h1v1h-1zM625 209h1v1h-1zM660 210h1v1h-1zM675 211h1v1h-1zM674 213h1v1h-1zM653 219h1v1h-1zM658 219h1v1h-1zM667 219h1v1h-1zM666 221h1v1h-1zM660 223h1v1h-1zM661 223h1v1h-1zM642 225h1v1h-1zM662 225h1v1h-1zM669 225h1v1h-1zM625 227h1v1h-1zM635 229h1v1h-1zM662 229h1v1h-1zM656 230h1v1h-1zM650 231h1v1h-1zM661 231h1v1h-1zM641 232h1v1h-1zM653 232h1v1h-1zM667 233h1v1h-1zM633 234h1v1h-1zM650 238h1v1h-1zM655 243h1v1h-1zM641 246h1v1h-1zM662 246h1v1h-1zM646 247h1v1h-1zM634 250h1v1h-1zM649 250h1v1h-1zM619 252h1v1h-1zM662 252h1v1h-1zM668 252h1v1h-1zM625 256h1v1h-1zM626 258h1v1h-1zM663 259h1v1h-1zM636 260h1v1h-1zM656 261h1v1h-1zM676 263h1v1h-1zM655 266h1v1h-1zM660 267h1v1h-1zM673 269h1v1h-1zM665 270h1v1h-1zM671 270h1v1h-1zM671 273h1v1h-1zM620 274h1v1h-1zM635 274h1v1h-1zM663 274h1v1h-1zM658 275h1v1h-1zM641 276h1v1h-1zM634 278h1v1h-1zM648 278h1v1h-1zM663 278h1v1h-1zM642 279h1v1h-1zM672 279h1v1h-1zM656 281h1v1h-1zM634 282h1v1h-1zM642 282h1v1h-1zM667 282h1v1h-1zM670 282h1v1h-1zM633 283h1v1h-1zM638 283h1v1h-1zM665 284h1v1h-1zM627 285h1v1h-1zM666 288h1v1h-1zM656 289h1v1h-1zM639 291h1v1h-1zM664 291h1v1h-1zM666 292h1v1h-1zM668 292h1v1h-1zM656 293h1v1h-1zM660 293h1v1h-1zM657 295h1v1h-1zM660 295h1v1h-1zM664 296h1v1h-1zM662 301h1v1h-1zM642 302h1v1h-1zM651 302h1v1h-1zM662 302h1v1h-1zM649 306h1v1h-1zM642 308h1v1h-1zM660 309h1v1h-1zM668 309h1v1h-1zM652 310h1v1h-1zM645 313h1v1h-1zM668 313h1v1h-1zM640 315h1v1h-1zM643 315h1v1h-1zM664 317h1v1h-1zM670 317h1v1h-1zM655 321h1v1h-1zM637 323h1v1h-1zM657 323h1v1h-1zM670 323h1v1h-1zM664 324h1v1h-1zM641 325h1v1h-1zM638 326h1v1h-1zM664 327h1v1h-1zM649 330h1v1h-1zM649 332h1v1h-1zM666 332h1v1h-1zM657 333h1v1h-1zM644 334h1v1h-1zM648 334h1v1h-1zM666 334h1v1h-1zM672 334h1v1h-1zM669 335h1v1h-1zM639 338h1v1h-1zM675 338h1v1h-1zM636 339h1v1h-1zM670 341h1v1h-1zM675 341h1v1h-1zM665 345h1v1h-1zM631 346h1v1h-1zM654 347h1v1h-1zM662 348h1v1h-1zM671 348h1v1h-1zM651 349h1v1h-1zM673 355h1v1h-1zM650 357h1v1h-1zM635 358h1v1h-1zM661 359h1v1h-1zM643 360h1v1h-1zM654 360h1v1h-1zM668 360h1v1h-1zM663 364h1v1h-1zM670 365h1v1h-1zM670 366h1v1h-1zM646 367h1v1h-1zM633 371h1v1h-1zM643 371h1v1h-1zM664 371h1v1h-1zM663 372h1v1h-1zM645 373h1v1h-1zM669 374h1v1h-1zM636 376h1v1h-1zM638 376h1v1h-1zM671 377h1v1h-1zM652 383h1v1h-1zM666 383h1v1h-1zM669 383h1v1h-1zM650 384h1v1h-1zM646 385h1v1h-1zM666 385h1v1h-1zM673 385h1v1h-1zM652 387h1v1h-1zM669 388h1v1h-1zM637 389h1v1h-1zM670 389h1v1h-1zM642 391h1v1h-1zM657 393h1v1h-1zM658 393h1v1h-1zM672 393h1v1h-1zM652 395h1v1h-1zM664 395h1v1h-1zM662 396h1v1h-1zM667 397h1v1h-1zM649 398h1v1h-1zM643 401h1v1h-1zM648 401h1v1h-1zM653 403h1v1h-1zM664 404h1v1h-1zM664 405h1v1h-1zM673 405h1v1h-1zM650 413h1v1h-1zM662 415h1v1h-1zM673 418h1v1h-1zM673 419h1v1h-1zM670 420h1v1h-1zM639 421h1v1h-1zM651 422h1v1h-1zM668 427h1v1h-1zM675 429h1v1h-1zM657 432h1v1h-1zM675 434h1v1h-1zM668 435h1v1h-1zM647 443h1v1h-1zM659 443h1v1h-1zM664 444h1v1h-1zM672 450h1v1h-1zM656 453h1v1h-1zM657 455h1v1h-1zM671 455h1v1h-1zM647 456h1v1h-1zM675 457h1v1h-1zM671 460h1v1h-1zM672 461h1v1h-1zM672 462h1v1h-1zM670 469h1v1h-1zM676 469h1v1h-1zM672 470h1v1h-1zM633 471h1v1h-1zM666 472h1v1h-1zM673 475h1v1h-1zM651 477h1v1h-1zM652 479h1v1h-1zM631 483h1v1h-1zM665 487h1v1h-1zM676 489h1v1h-1zM658 497h1v1h-1zM674 497h1v1h-1zM668 498h1v1h-1zM640 501h1v1h-1zM672 502h1v1h-1zM662 503h1v1h-1zM658 505h1v1h-1zM647 506h1v1h-1zM653 508h1v1h-1zM641 509h1v1h-1zM661 514h1v1h-1zM626 515h1v1h-1zM650 515h1v1h-1zM655 515h1v1h-1zM668 515h1v1h-1zM647 517h1v1h-1zM663 517h1v1h-1zM646 518h1v1h-1zM647 518h1v1h-1zM647 520h1v1h-1zM638 521h1v1h-1zM659 522h1v1h-1zM673 522h1v1h-1zM674 522h1v1h-1zM635 524h1v1h-1zM654 524h1v1h-1zM670 524h1v1h-1zM672 524h1v1h-1zM664 526h1v1h-1zM670 528h1v1h-1zM638 529h1v1h-1zM655 529h1v1h-1zM660 530h1v1h-1zM667 530h1v1h-1zM653 534h1v1h-1zM657 537h1v1h-1zM658 537h1v1h-1zM650 538h1v1h-1zM660 538h1v1h-1zM647 540h1v1h-1zM668 540h1v1h-1zM652 543h1v1h-1zM664 543h1v1h-1zM655 544h1v1h-1zM650 545h1v1h-1zM658 546h1v1h-1zM660 546h1v1h-1zM646 548h1v1h-1zM636 550h1v1h-1zM657 551h1v1h-1zM645 554h1v1h-1zM659 555h1v1h-1zM666 555h1v1h-1zM641 558h1v1h-1zM649 558h1v1h-1zM651 558h1v1h-1zM657 559h1v1h-1zM649 561h1v1h-1zM652 561h1v1h-1zM633 564h1v1h-1zM664 565h1v1h-1zM645 566h1v1h-1zM649 566h1v1h-1zM669 566h1v1h-1zM665 569h1v1h-1zM674 572h1v1h-1zM659 573h1v1h-1zM630 575h1v1h-1zM650 576h1v1h-1zM634 579h1v1h-1zM663 584h1v1h-1zM632 586h1v1h-1zM666 587h1v1h-1zM663 588h1v1h-1zM658 589h1v1h-1zM653 590h1v1h-1zM648 591h1v1h-1zM631 594h1v1h-1zM632 595h1v1h-1zM668 595h1v1h-1zM664 598h1v1h-1zM669 598h1v1h-1zM644 600h1v1h-1zM629 602h1v1h-1zM665 602h1v1h-1zM667 603h1v1h-1zM652 604h1v1h-1zM648 606h1v1h-1zM674 607h1v1h-1zM656 609h1v1h-1zM664 611h1v1h-1zM674 611h1v1h-1zM641 612h1v1h-1zM645 615h1v1h-1zM674 615h1v1h-1zM651 616h1v1h-1zM644 618h1v1h-1zM646 618h1v1h-1zM667 618h1v1h-1zM669 618h1v1h-1zM666 625h1v1h-1zM672 626h1v1h-1zM647 627h1v1h-1zM651 628h1v1h-1zM626 629h1v1h-1zM646 629h1v1h-1zM649 629h1v1h-1zM669 631h1v1h-1zM657 632h1v1h-1zM649 634h1v1h-1zM664 634h1v1h-1zM666 634h1v1h-1zM658 638h1v1h-1zM671 638h1v1h-1zM643 642h1v1h-1zM635 643h1v1h-1zM670 643h1v1h-1zM665 644h1v1h-1zM643 645h1v1h-1zM658 645h1v1h-1zM655 646h1v1h-1zM639 648h1v1h-1zM644 650h1v1h-1zM647 651h1v1h-1zM650 651h1v1h-1zM654 651h1v1h-1zM662 652h1v1h-1zM640 653h1v1h-1zM627 654h1v1h-1zM655 654h1v1h-1zM659 654h1v1h-1zM665 654h1v1h-1zM651 655h1v1h-1zM661 656h1v1h-1zM635 657h1v1h-1zM651 658h1v1h-1zM627 659h1v1h-1zM623 665h1v1h-1zM656 665h1v1h-1zM638 666h1v1h-1zM648 666h1v1h-1zM676 666h1v1h-1zM649 667h1v1h-1zM659 667h1v1h-1zM633 669h1v1h-1zM655 670h1v1h-1zM669 673h1v1h-1zM667 674h1v1h-1zM627 677h1v1h-1zM641 678h1v1h-1zM660 680h1v1h-1zM655 681h1v1h-1zM623 682h1v1h-1zM662 682h1v1h-1zM647 683h1v1h-1zM643 685h1v1h-1zM661 687h1v1h-1zM666 687h1v1h-1zM641 688h1v1h-1zM671 690h1v1h-1z"/>
</svg>
</body></html>
